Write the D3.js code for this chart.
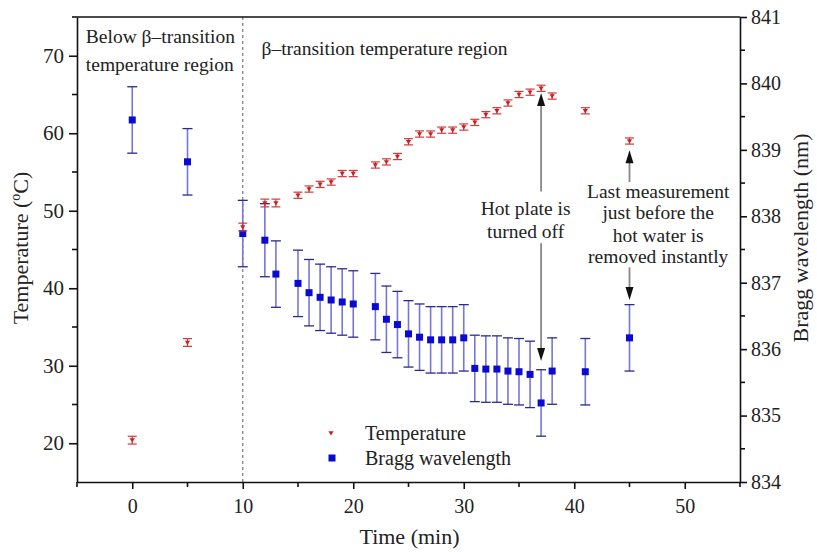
<!DOCTYPE html>
<html>
<head>
<meta charset="utf-8">
<script src="https://cdn.jsdelivr.net/npm/d3@7"></script>
<style>
  body { margin: 0; background: #fff; }
</style>
</head>
<body>
<svg id="chart" width="817" height="552" font-family="'Liberation Serif', 'DejaVu Serif', serif"></svg>
<script>
// time of each measurement (min)
const times = [0, 5, 10, 12, 13, 15, 16, 17, 18, 19, 20, 22, 23, 24, 25, 26, 27, 28, 29, 30, 31, 32, 33, 34, 35, 36, 37, 38, 41, 45];
// temperature (deg C) and its error
const temperature = [20.4, 33.0, 47.9, 51.0, 51.0, 52.0, 52.8, 53.4, 53.7, 54.8, 54.8, 55.9, 56.3, 57.0, 58.9, 59.9, 59.9, 60.4, 60.4, 60.8, 61.4, 62.4, 62.9, 63.9, 65.0, 65.3, 65.8, 64.8, 62.9, 59.0];
const tempErr = [0.5, 0.5, 0.5, 0.5, 0.5, 0.4, 0.4, 0.4, 0.4, 0.4, 0.4, 0.4, 0.4, 0.4, 0.4, 0.4, 0.4, 0.4, 0.4, 0.4, 0.4, 0.4, 0.4, 0.4, 0.4, 0.4, 0.4, 0.4, 0.4, 0.4];
// bragg wavelength (nm) and its error
const bragg = [839.45, 838.82, 837.74, 837.64, 837.13, 836.99, 836.85, 836.78, 836.74, 836.71, 836.68, 836.64, 836.45, 836.37, 836.23, 836.18, 836.14, 836.14, 836.14, 836.17, 835.71, 835.70, 835.70, 835.67, 835.66, 835.62, 835.19, 835.67, 835.66, 836.17];
const braggErr = [0.5, 0.5, 0.5, 0.55, 0.5, 0.5, 0.5, 0.5, 0.5, 0.5, 0.5, 0.5, 0.5, 0.5, 0.5, 0.5, 0.5, 0.5, 0.5, 0.5, 0.5, 0.5, 0.5, 0.5, 0.5, 0.5, 0.5, 0.5, 0.5, 0.5];

const xTicks = [0, 10, 20, 30, 40, 50];
const xMinor = [-5, 5, 15, 25, 35, 45, 55];
const yTicks = [20, 30, 40, 50, 60, 70];
const yMinor = [25, 35, 45, 55, 65, 75];
const y2Ticks = [834, 835, 836, 837, 838, 839, 840, 841];
const y2Minor = [834.5, 835.5, 836.5, 837.5, 838.5, 839.5, 840.5];

const mLeft = 77, mRight = 740, mTop = 17, mBottom = 482;
const FONT = "'Liberation Serif', 'DejaVu Serif', serif";
const svg = d3.select("#chart");

const x = d3.scaleLinear().domain([-5, 55]).range([mLeft, mRight]);
const y = d3.scaleLinear().domain([15, 75]).range([mBottom, mTop]);
const y2 = d3.scaleLinear().domain([834, 841]).range([mBottom, mTop]);

// dashed line at 10 min
svg.append("line")
  .attr("x1", x(10)).attr("x2", x(10)).attr("y1", mTop).attr("y2", mBottom)
  .attr("stroke", "#777").attr("stroke-width", 1.2).attr("stroke-dasharray", "3,3");

// axes
function styleAxis(g) {
  g.attr("font-family", FONT);
  g.select(".domain").attr("stroke", "#111").attr("stroke-width", 1.6);
  g.selectAll(".tick line").attr("stroke", "#111").attr("stroke-width", 1.6);
  g.selectAll("text").attr("font-size", 20).attr("fill", "#222");
}
const xAxis = svg.append("g").attr("transform", `translate(0,${mBottom})`)
  .call(d3.axisBottom(x).tickValues(xTicks).tickSize(7).tickPadding(10).tickSizeOuter(0));
styleAxis(xAxis);
xAxis.append("g").selectAll("line").data(xMinor).join("line")
  .attr("x1", d => x(d)).attr("x2", d => x(d)).attr("y1", 0).attr("y2", 5)
  .attr("stroke", "#111").attr("stroke-width", 1.6);

const yAxis = svg.append("g").attr("transform", `translate(${mLeft},0)`)
  .call(d3.axisLeft(y).tickValues(yTicks).tickSize(8).tickPadding(5).tickSizeOuter(0));
styleAxis(yAxis);
yAxis.selectAll("text").attr("font-size", 21);
yAxis.append("g").selectAll("line").data(yMinor).join("line")
  .attr("y1", d => y(d)).attr("y2", d => y(d)).attr("x1", 0).attr("x2", -5)
  .attr("stroke", "#111").attr("stroke-width", 1.6);

const y2Axis = svg.append("g").attr("transform", `translate(${mRight},0)`)
  .call(d3.axisRight(y2).tickValues(y2Ticks).tickFormat(d3.format("d"))
    .tickSize(7).tickPadding(4).tickSizeOuter(0));
styleAxis(y2Axis);
y2Axis.append("g").selectAll("line").data(y2Minor).join("line")
  .attr("y1", d => y2(d)).attr("y2", d => y2(d)).attr("x1", 0).attr("x2", 5)
  .attr("stroke", "#111").attr("stroke-width", 1.6);

// top frame
svg.append("line").attr("x1", mLeft).attr("x2", mRight).attr("y1", mTop).attr("y2", mTop)
  .attr("stroke", "#111").attr("stroke-width", 1.6);

// axis titles
svg.append("text").attr("x", (mLeft + mRight) / 2 + 1).attr("y", 544)
  .attr("text-anchor", "middle").attr("font-size", 22).attr("fill", "#222").text("Time (min)");
const tl = svg.append("text").attr("transform", "translate(28,248) rotate(-90)")
  .attr("text-anchor", "middle").attr("font-size", 22).attr("fill", "#222");
tl.append("tspan").text("Temperature (");
tl.append("tspan").attr("dy", -8).attr("font-size", 14).text("o");
tl.append("tspan").attr("dy", 8).text("C)");
svg.append("text").attr("transform", "translate(808,238) rotate(-90)")
  .attr("text-anchor", "middle").attr("font-size", 22).attr("fill", "#222").text("Bragg wavelength (nm)");

// data
const rows = times.map((t, i) => ({ t, T: temperature[i], eT: tempErr[i], W: bragg[i], eW: braggErr[i] }));

// bragg error bars
const bg = svg.append("g");
bg.append("g").selectAll("line").data(rows).join("line")
  .attr("x1", d => x(d.t)).attr("x2", d => x(d.t))
  .attr("y1", d => y2(d.W - d.eW)).attr("y2", d => y2(d.W + d.eW))
  .attr("stroke", "#7676d8").attr("stroke-width", 1.6);
[-1, 1].forEach(s => {
  bg.append("g").selectAll("line").data(rows).join("line")
    .attr("x1", d => x(d.t) - 5).attr("x2", d => x(d.t) + 5)
    .attr("y1", d => y2(d.W + s * d.eW)).attr("y2", d => y2(d.W + s * d.eW))
    .attr("stroke", "#2a2a8a").attr("stroke-width", 1.3);
});
bg.append("g").selectAll("rect").data(rows).join("rect")
  .attr("x", d => x(d.t) - 3.5).attr("y", d => y2(d.W) - 3.5)
  .attr("width", 7).attr("height", 7).attr("fill", "#0a0ad2");

// temperature error bars
const rg = svg.append("g");
rg.append("g").selectAll("line").data(rows).join("line")
  .attr("x1", d => x(d.t)).attr("x2", d => x(d.t))
  .attr("y1", d => y(d.T - d.eT)).attr("y2", d => y(d.T + d.eT))
  .attr("stroke", "#d23a3a").attr("stroke-width", 1.2);
[-1, 1].forEach(s => {
  rg.append("g").selectAll("line").data(rows).join("line")
    .attr("x1", d => x(d.t) - 4.5).attr("x2", d => x(d.t) + 4.5)
    .attr("y1", d => y(d.T + s * d.eT)).attr("y2", d => y(d.T + s * d.eT))
    .attr("stroke", "#d23a3a").attr("stroke-width", 1.2);
});
const tri = "M-2.6,-1.8 L2.6,-1.8 L0,2.4 Z";
rg.append("g").selectAll("path").data(rows).join("path")
  .attr("transform", d => `translate(${x(d.t)},${y(d.T)})`)
  .attr("d", tri).attr("fill", "#cc1f1f");

// region labels
const regionLabels = [
  { t: -4.2, v: 71.6, text: "Below \u03b2\u2013transition" },
  { t: -4.2, v: 68.0, text: "temperature region" },
  { t: 11.7, v: 70.1, text: "\u03b2\u2013transition temperature region" }
];
svg.append("g").selectAll("text").data(regionLabels).join("text")
  .attr("x", d => x(d.t)).attr("y", d => y(d.v))
  .attr("font-size", 19.5).attr("fill", "#222").text(d => d.text);

// annotations with arrows
const arrows = [
  { t: 37, from: 52.5, to: 65.2 },
  { t: 37, from: 45.8, to: 30.6 },
  { t: 45, from: 53.7, to: 57.8 },
  { t: 45, from: 42.7, to: 38.5 }
];
const ag = svg.append("g");
arrows.forEach(a => {
  const x0 = x(a.t), ya = y(a.from), yb = y(a.to);
  const dir = yb < ya ? 1 : -1;
  ag.append("line").attr("x1", x0).attr("x2", x0).attr("y1", ya).attr("y2", yb + dir * 10)
    .attr("stroke", "#888").attr("stroke-width", 1.8);
  ag.append("path")
    .attr("d", `M${x0},${yb} L${x0 - 4},${yb + dir * 13} L${x0 + 4},${yb + dir * 13} Z`)
    .attr("fill", "#111");
});
const notes = [
  { t: 35.6, v: 49.5, text: "Hot plate is" },
  { t: 35.6, v: 46.5, text: "turned off" },
  { t: 47.6, v: 51.7, text: "Last measurement" },
  { t: 47.6, v: 48.9, text: "just before the" },
  { t: 47.6, v: 46.0, text: "hot water is" },
  { t: 47.6, v: 43.2, text: "removed instantly" }
];
svg.append("g").selectAll("text").data(notes).join("text")
  .attr("x", d => x(d.t)).attr("y", d => y(d.v))
  .attr("text-anchor", "middle").attr("font-size", 19.5).attr("fill", "#222").text(d => d.text);

// legend
const legend = svg.append("g");
legend.append("path").attr("transform", "translate(331,433)").attr("d", tri).attr("fill", "#cc1f1f");
legend.append("rect").attr("x", 328.5).attr("y", 454.5).attr("width", 7).attr("height", 7).attr("fill", "#0a0ad2");
legend.append("text").attr("x", 365).attr("y", 440).attr("font-size", 20).attr("fill", "#222").text("Temperature");
legend.append("text").attr("x", 365).attr("y", 465).attr("font-size", 20).attr("fill", "#222").text("Bragg wavelength");
</script>
</body>
</html>
